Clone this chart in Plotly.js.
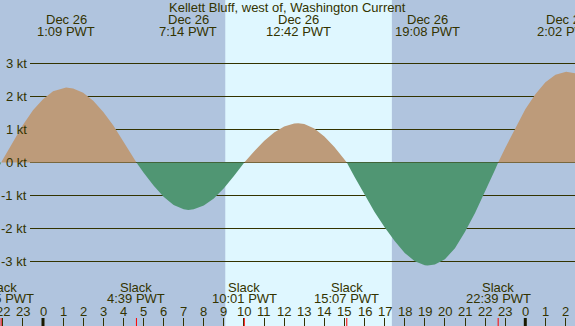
<!DOCTYPE html>
<html>
<head>
<meta charset="utf-8">
<script src="https://cdn.plot.ly/plotly-3.0.1.min.js"></script>
<style>html,body{margin:0;padding:0;background:#B0C4DE;}#chart{width:575px;height:326px;}</style>
</head>
<body>
<div id="chart"></div>
<script>
// hours relative to Dec 26 00:00 PWT
var times = [-2.2, -2.083, -2.0, -1.5, -1.0, -0.5, 0, 0.5, 1.0, 1.15, 1.5, 2.0, 2.5, 3.0, 3.5, 4.0, 4.5, 4.65,
  5.0, 5.5, 6.0, 6.5, 7.0, 7.233, 7.5, 8.0, 8.5, 9.0, 9.5, 10.0, 10.017, 10.5, 11.0, 11.5, 12.0, 12.5, 12.7,
  13.0, 13.5, 14.0, 14.5, 15.0, 15.117, 15.5, 16.0, 16.5, 17.0, 17.5, 18.0, 18.5, 19.0, 19.133, 19.5, 20.0,
  20.5, 21.0, 21.5, 22.0, 22.5, 22.65, 23.0, 23.5, 24.0, 24.5, 25.0, 25.5, 26.0, 26.033, 26.5];
var speeds = [-0.15, 0, 0.09, 0.63, 1.14, 1.58, 1.92, 2.16, 2.26, 2.27, 2.24, 2.11, 1.87, 1.53, 1.12, 0.65, 0.15, 0,
  -0.30, -0.70, -1.04, -1.29, -1.42, -1.44, -1.42, -1.30, -1.09, -0.78, -0.41, -0.01, 0, 0.33, 0.65, 0.91, 1.09, 1.18, 1.19,
  1.17, 1.03, 0.79, 0.47, 0.09, 0, -0.43, -0.98, -1.50, -1.96, -2.38, -2.74, -2.99, -3.11, -3.12, -3.09, -2.93,
  -2.60, -2.10, -1.53, -0.89, -0.21, 0, 0.44, 1.05, 1.61, 2.07, 2.43, 2.66, 2.75, 2.75, 2.70];

var maxTimes = [1.15, 7.233, 12.7, 19.133, 26.033];
var maxDates = ['Dec 26', 'Dec 26', 'Dec 26', 'Dec 26', 'Dec 27'];
var maxLabels = ['1:09 PWT', '7:14 PWT', '12:42 PWT', '19:08 PWT', '2:02 PWT'];

var slackTimes = [-2.083, 4.65, 10.017, 15.117, 22.65];
var slackLabels = ['21:55 PWT', '4:39 PWT', '10:01 PWT', '15:07 PWT', '22:39 PWT'];

var hourVals = [];
for (var h = -2; h <= 26; h++) hourVals.push(h);
var hourLabels = ['22','23','0','1','2','3','4','5','6','7','8','9','10','11','12','13','14','15','16','17','18','19','20','21','22','23','0','1','2'];
var midnights = [0, 24];

var sunrise = [9.07];
var sunset = [17.36];

var yTicks = [3, 2, 1, 0, -1, -2, -3];
var yLabels = ['3 kt', '2 kt', '1 kt', '0 kt', '-1 kt', '-2 kt', '-3 kt'];

var titleText = 'Kellett Bluff, west of, Washington Current';

var W = 575, H = 326;
var FONT = 'Liberation Sans, Arial, sans-serif';
var TXT = '#333300';
function py(y) { return 1 - y / H; }

var flood = speeds.map(function (v) { return Math.max(v, 0); });
var ebb = speeds.map(function (v) { return Math.min(v, 0); });

var traces = [
  {x: times, y: flood, type: 'scatter', mode: 'lines', fill: 'tozeroy', fillcolor: '#BD9B7A', line: {width: 0, color: '#BD9B7A'}, hoverinfo: 'skip'},
  {x: times, y: ebb, type: 'scatter', mode: 'lines', fill: 'tozeroy', fillcolor: '#509673', line: {width: 0, color: '#509673'}, hoverinfo: 'skip'}
];

var shapes = [];
for (var i = 0; i < sunrise.length; i++) {
  shapes.push({type: 'rect', xref: 'x', yref: 'paper', x0: sunrise[i], x1: sunset[i], y0: 0, y1: 1, fillcolor: '#DFF7FF', line: {width: 0}, layer: 'below'});
}
yTicks.forEach(function (v) {
  shapes.push({type: 'line', xref: 'paper', yref: 'y', x0: 30 / W, x1: 1, y0: v, y1: v, line: {color: TXT, width: 1}, layer: 'below'});
});
slackTimes.forEach(function (t) {
  shapes.push({type: 'line', xref: 'x', yref: 'paper', x0: t, x1: t, y0: 0, y1: 8 / H, line: {color: '#FF0000', width: 1}, layer: 'above'});
});
midnights.forEach(function (t) {
  shapes.push({type: 'line', xref: 'x', yref: 'paper', x0: t, x1: t, y0: 0, y1: 8 / H, line: {color: '#1A1A00', width: 3}, layer: 'above'});
});

var ann = [];
function txt(x, xref, y, s, xanchor, yref) {
  ann.push({x: x, xref: xref, y: y, yref: yref || 'paper', text: s, showarrow: false, xanchor: xanchor || 'center', yanchor: 'middle',
    font: {family: FONT, size: 13, color: TXT}, borderpad: 0});
}
txt(0.5, 'paper', py(7.5), titleText);
maxTimes.forEach(function (t, i) {
  txt(t, 'x', py(19.5), maxDates[i]);
  txt(t, 'x', py(31.5), maxLabels[i]);
});
slackTimes.forEach(function (t, i) {
  txt(t, 'x', py(287.2), 'Slack');
  txt(t, 'x', py(298.8), slackLabels[i]);
});
yTicks.forEach(function (v, i) {
  txt(28 / W, 'paper', v, yLabels[i], 'right', 'y');
});
hourVals.forEach(function (v, i) {
  txt(v, 'x', py(311.3), hourLabels[i]);
});

var layout = {
  width: W, height: H,
  margin: {l: 0, r: 0, t: 0, b: 0, pad: 0},
  paper_bgcolor: '#B0C4DE', plot_bgcolor: '#B0C4DE',
  showlegend: false,
  xaxis: {range: [-43 / 20.096, (575 - 43) / 20.096], showgrid: false, zeroline: false, showline: false,
    tickvals: hourVals, ticktext: hourLabels, ticks: 'inside', ticklen: 8, tickwidth: 1, tickcolor: TXT,
    showticklabels: false, fixedrange: true},
  yaxis: {range: [-(326 - 162.5) / 33, 162.5 / 33], showgrid: false, zeroline: false, showline: false,
    showticklabels: false, ticks: '', fixedrange: true},
  shapes: shapes,
  annotations: ann,
  font: {family: FONT, color: TXT}
};

Plotly.newPlot('chart', traces, layout, {displayModeBar: false, staticPlot: true});
</script>
</body>
</html>
